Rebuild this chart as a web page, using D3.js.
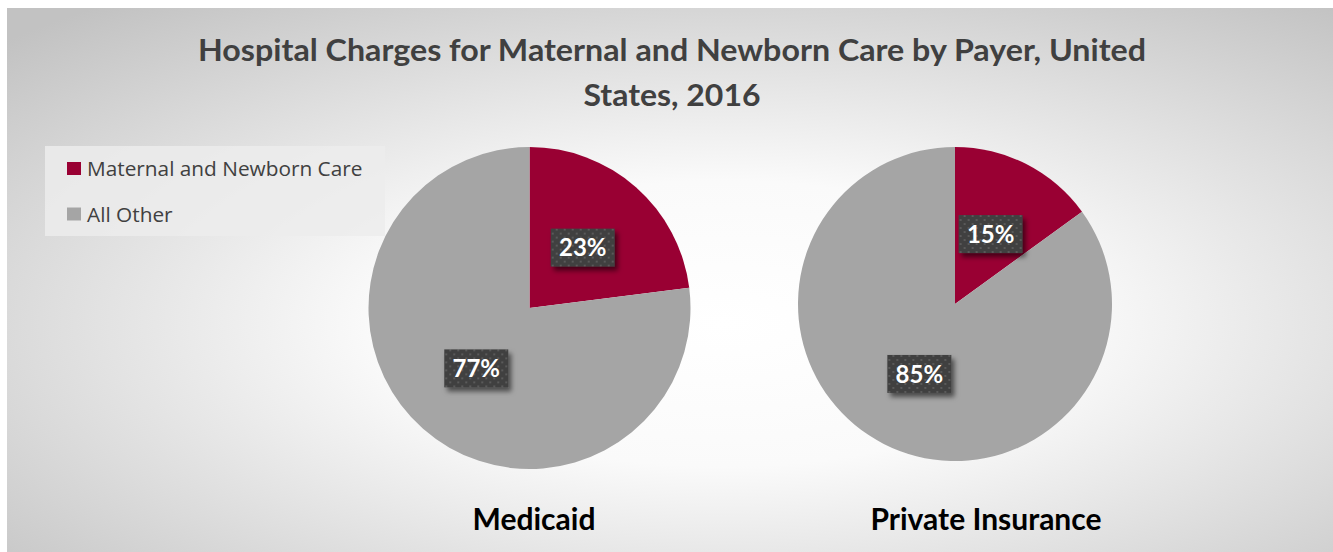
<!DOCTYPE html>
<html>
<head>
<meta charset="utf-8">
<script src="https://cdn.jsdelivr.net/npm/d3@7"></script>
<style>
  html, body { margin: 0; padding: 0; background: #fff; }
  svg { display: block; }
</style>
</head>
<body>
<div id="chart"></div>
<script>
// data
var categories = ['Maternal and Newborn Care', 'All Other'];
var payers = ['Medicaid', 'Private Insurance'];
var medicaidShares = [23, 77];
var privateShares = [15, 85];
var titleLines = ['Hospital Charges for Maternal and Newborn Care by Payer, United', 'States, 2016'];

var W = 1333, H = 552;
var colors = d3.scaleOrdinal().domain(categories).range(['#990033', '#a5a5a5']);

var svg = d3.select('#chart').append('svg')
    .attr('width', W)
    .attr('height', H);

var defs = svg.append('defs');

// chart area background - light centre fading to grey edges
var grad = defs.append('radialGradient')
    .attr('id', 'bg')
    .attr('cx', 0.54).attr('cy', 0.58).attr('r', 0.75)
    .attr('fx', 0.54).attr('fy', 0.58);
grad.append('stop').attr('offset', '0%').attr('stop-color', '#ffffff');
grad.append('stop').attr('offset', '35%').attr('stop-color', '#fafafa');
grad.append('stop').attr('offset', '100%').attr('stop-color', '#c2c2c2');

// dotted dark label fill
var pat = defs.append('pattern')
    .attr('id', 'dots')
    .attr('patternUnits', 'userSpaceOnUse')
    .attr('width', 8).attr('height', 8);
pat.append('rect').attr('width', 8).attr('height', 8).attr('fill', '#404040');
pat.append('rect').attr('x', 1).attr('y', 1).attr('width', 2).attr('height', 2).attr('fill', '#5a5a5a');
pat.append('rect').attr('x', 5).attr('y', 5).attr('width', 2).attr('height', 2).attr('fill', '#5a5a5a');

var shadow = defs.append('filter')
    .attr('id', 'shadow')
    .attr('x', '-30%').attr('y', '-30%').attr('width', '170%').attr('height', '180%');
shadow.append('feDropShadow')
    .attr('dx', 3).attr('dy', 4)
    .attr('stdDeviation', 2.5)
    .attr('flood-color', '#000')
    .attr('flood-opacity', 0.55);

svg.append('rect')
    .attr('x', 7).attr('y', 8)
    .attr('width', W - 7).attr('height', H - 8)
    .attr('fill', 'url(#bg)');

// title (Calibri is narrower, so stretch to the original width)
var titleWidths = [948, 177];
svg.append('g').selectAll('text')
    .data(titleLines)
  .enter().append('text')
    .attr('x', 672)
    .attr('y', function(d, i) { return 61 + i * 45; })
    .attr('text-anchor', 'middle')
    .attr('textLength', function(d, i) { return titleWidths[i]; })
    .attr('lengthAdjust', 'spacingAndGlyphs')
    .style('font-family', 'Lato, sans-serif')
    .style('font-weight', 'bold')
    .style('font-size', '30px')
    .attr('fill', '#404040')
    .text(String);

// legend
var legend = svg.append('g');
legend.append('rect')
    .attr('x', 45).attr('y', 146)
    .attr('width', 340).attr('height', 90)
    .attr('fill', '#ececec')
    .attr('opacity', 0.85);

var items = legend.selectAll('g.item')
    .data(categories)
  .enter().append('g')
    .attr('class', 'item')
    .attr('transform', function(d, i) { return 'translate(67,' + (162 + i * 45.5) + ')'; });
items.append('rect')
    .attr('width', 14).attr('height', 13)
    .attr('fill', function(d) { return colors(d); });
items.append('text')
    .attr('x', 20).attr('y', 14)
    .style('font-family', '"Open Sans", sans-serif')
    .style('font-size', '20.8px')
    .attr('fill', '#404040')
    .text(String);

// pies
var pies = [
  { name: payers[0], values: medicaidShares, cx: 529.5, cy: 308, r: 161, labelX: 534 },
  { name: payers[1], values: privateShares, cx: 955, cy: 304, r: 157, labelX: 986 }
];

var pie = d3.pie().sort(null).value(function(d) { return d.v; });

pies.forEach(function(p) {
  var arc = d3.arc().innerRadius(0).outerRadius(p.r);
  var slices = pie(p.values.map(function(v, i) { return { v: v, cat: categories[i] }; }));

  var g = svg.append('g')
      .attr('transform', 'translate(' + p.cx + ',' + p.cy + ')');

  g.selectAll('path')
      .data(slices)
    .enter().append('path')
      .attr('d', arc)
      .attr('fill', function(d) { return colors(d.data.cat); });

  var lab = g.selectAll('g.lab')
      .data(slices)
    .enter().append('g')
      .attr('class', 'lab')
      .attr('transform', function(d) { return 'translate(' + arc.centroid(d) + ')'; });
  lab.append('rect')
      .attr('x', -32).attr('y', -19)
      .attr('width', 64).attr('height', 38)
      .attr('fill', 'url(#dots)')
      .attr('filter', 'url(#shadow)');
  lab.append('text')
      .attr('text-anchor', 'middle')
      .attr('dy', '0.36em')
      .style('font-family', 'Lato, sans-serif')
      .style('font-weight', 'bold')
      .style('font-size', '24px')
      .attr('fill', '#fff')
      .text(function(d) { return d.data.v + '%'; });

  svg.append('text')
      .attr('x', p.labelX)
      .attr('y', 530)
      .attr('text-anchor', 'middle')
      .style('font-family', 'Lato, sans-serif')
      .style('font-weight', 'bold')
      .style('font-size', '30px')
      .attr('fill', '#000')
      .text(p.name);
});
</script>
</body>
</html>
